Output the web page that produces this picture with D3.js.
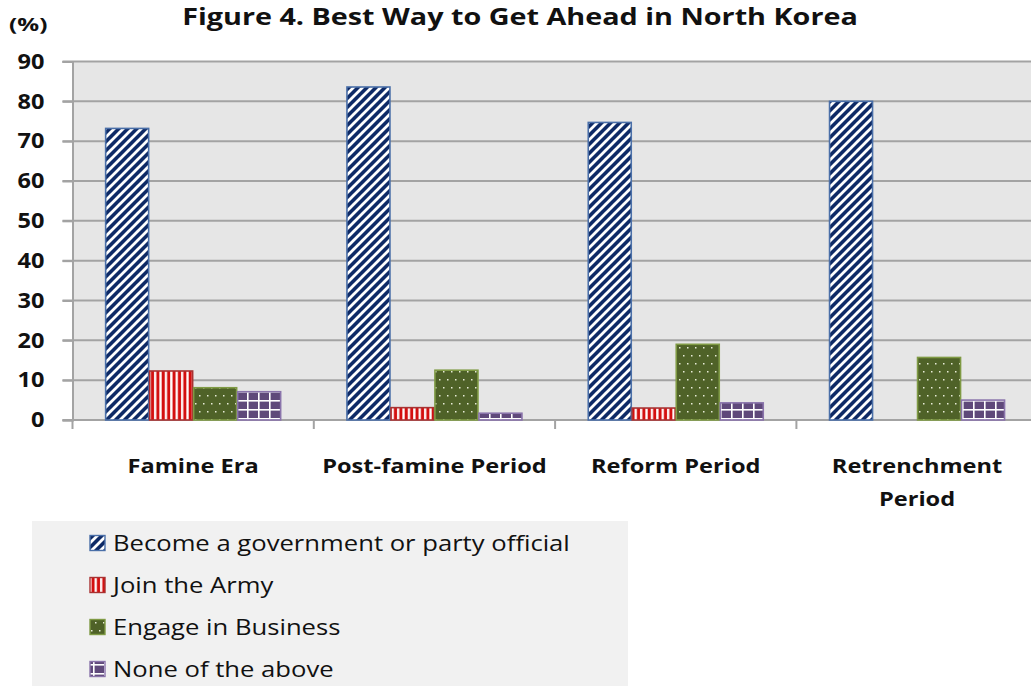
<!DOCTYPE html>
<html>
<head>
<meta charset="utf-8">
<script src="https://cdn.jsdelivr.net/npm/d3@7"></script>
<style>
  html, body { margin: 0; padding: 0; background: #ffffff; }
  svg { display: block; font-family: "Open Sans", Lato, sans-serif; }
</style>
</head>
<body>
<svg id="chart" width="1031" height="686"></svg>
<script>
// ---- data ----
const categories = ["Famine Era", "Post-famine Period", "Reform Period", "Retrenchment Period"];
const seriesNames = ["Become a government or party official", "Join the Army", "Engage in Business", "None of the above"];
const officialValues = [73.2, 83.6, 74.7, 80.0];
const armyValues = [12.3, 3.1, 3.0, 0];
const businessValues = [8.1, 12.5, 19.0, 15.7];
const noneValues = [7.1, 1.7, 4.3, 5.0];
const yTicks = [0, 10, 20, 30, 40, 50, 60, 70, 80, 90];
const titleText = "Figure 4. Best Way to Get Ahead in North Korea";
const unitText = "(%)";

const seriesValues = [officialValues, armyValues, businessValues, noneValues];

const svg = d3.select("#chart");
const W = 1031, H = 686;
const plot = { left: 72.5, top: 61.5, bottom: 420, bandW: 241.3 };

// horizontally widen a text element (the reference glyphs are wide)
function widen(textSel, k, anchor) {
  textSel.each(function () {
    const el = d3.select(this);
    const len = this.getComputedTextLength();
    const x = +el.attr("x");
    const newLen = len * k;
    let x0 = x;
    if (anchor === "middle") x0 = x - newLen / 2;
    else if (anchor === "end") x0 = x - newLen;
    el.attr("text-anchor", "start").attr("x", x0)
      .attr("textLength", newLen).attr("lengthAdjust", "spacingAndGlyphs");
  });
}

// ---- patterns ----
const defs = svg.append("defs");
const patIds = ["pat-official", "pat-army", "pat-business", "pat-none"];
const borders = ["#4a6fa8", "#a83232", "#7f9a44", "#8a74ab"];

{
  const s = 9;
  const p = defs.append("pattern").attr("id", patIds[0]).attr("patternUnits", "userSpaceOnUse")
    .attr("width", s).attr("height", s);
  p.append("rect").attr("width", s).attr("height", s).attr("fill", "#0e2a66");
  p.append("path").attr("d", `M-2,2 L2,-2 M0,${s} L${s},0 M${s - 2},${s + 2} L${s + 2},${s - 2}`)
    .attr("stroke", "#ffffff").attr("stroke-width", 2.8);
}
{
  const p = defs.append("pattern").attr("id", patIds[1]).attr("patternUnits", "userSpaceOnUse")
    .attr("width", 5.4).attr("height", 10);
  p.append("rect").attr("width", 5.4).attr("height", 10).attr("fill", "#d40f0f");
  p.append("rect").attr("x", 2.8).attr("width", 2.3).attr("height", 10).attr("fill", "#ffffff");
}
{
  const p = defs.append("pattern").attr("id", patIds[2]).attr("patternUnits", "userSpaceOnUse")
    .attr("width", 16).attr("height", 16);
  p.append("rect").attr("width", 16).attr("height", 16).attr("fill", "#4f6228");
  [[3, 3], [11, 3], [7, 11], [15, 11], [-1, 11]].forEach(([dx, dy]) => {
    p.append("rect").attr("x", dx).attr("y", dy).attr("width", 1.5).attr("height", 1.5).attr("fill", "#e8ecd8");
  });
}
{
  const p = defs.append("pattern").attr("id", patIds[3]).attr("patternUnits", "userSpaceOnUse")
    .attr("width", 11).attr("height", 9);
  p.append("rect").attr("width", 11).attr("height", 9).attr("fill", "#5f497a");
  p.append("rect").attr("x", 5).attr("width", 1.6).attr("height", 9).attr("fill", "#ffffff");
  p.append("rect").attr("y", 4).attr("width", 11).attr("height", 1.6).attr("fill", "#ffffff");
}

// ---- scales ----
const x0 = d3.scaleBand().domain(categories)
  .range([plot.left, plot.left + plot.bandW * categories.length]).padding(0);
const groupW = 176;
const x1 = d3.scaleBand().domain(seriesNames)
  .range([(x0.bandwidth() - groupW) / 2, (x0.bandwidth() + groupW) / 2]).padding(0);
const y = d3.scaleLinear().domain([0, 90]).range([plot.bottom, plot.top]);

// ---- plot background ----
svg.append("rect").attr("x", plot.left).attr("y", plot.top)
  .attr("width", W - plot.left).attr("height", plot.bottom - plot.top)
  .attr("fill", "#e6e6e6");

svg.append("g").selectAll("line").data(yTicks).join("line")
  .attr("x1", plot.left - 10).attr("x2", W)
  .attr("y1", d => y(d)).attr("y2", d => y(d))
  .attr("stroke", "#a3a3a3").attr("stroke-width", 2);

// y axis
const yAxis = svg.append("g").attr("transform", `translate(${plot.left},0)`)
  .call(d3.axisLeft(y).tickValues(yTicks).tickSize(10).tickPadding(18));
yAxis.select(".domain").attr("stroke", "#a3a3a3").attr("stroke-width", 2);
yAxis.selectAll(".tick line").attr("stroke", "#a3a3a3").attr("stroke-width", 2);
const yTickText = yAxis.selectAll(".tick text").attr("font-size", 21).attr("font-weight", "bold")
  .attr("fill", "#111").attr("font-family", "'Open Sans', sans-serif");
yTickText.each(function () { d3.select(this).attr("x", -28); });
widen(yTickText, 1.12, "end");

// x axis
svg.append("line").attr("x1", plot.left).attr("x2", W).attr("y1", y(0)).attr("y2", y(0))
  .attr("stroke", "#a3a3a3").attr("stroke-width", 2);
const boundaries = categories.map(c => x0(c));
svg.append("g").selectAll("line").data(boundaries).join("line")
  .attr("x1", d => d).attr("x2", d => d).attr("y1", y(0)).attr("y2", y(0) + 9)
  .attr("stroke", "#a3a3a3").attr("stroke-width", 2);

// ---- bars ----
const barData = [];
categories.forEach((c, ci) => {
  seriesNames.forEach((s, si) => {
    barData.push({ cat: c, series: s, si: si, value: seriesValues[si][ci] });
  });
});
svg.append("g").selectAll("rect").data(barData.filter(d => d.value > 0)).join("rect")
  .attr("x", d => x0(d.cat) + x1(d.series) + 0.5)
  .attr("y", d => y(d.value))
  .attr("width", x1.bandwidth() - 1)
  .attr("height", d => y(0) - y(d.value))
  .attr("fill", d => `url(#${patIds[d.si]})`)
  .attr("stroke", d => borders[d.si]).attr("stroke-width", 1.6);

// ---- x labels ----
const xl = svg.append("g");
categories.forEach(c => {
  const lines = c === "Retrenchment Period" ? ["Retrenchment", "Period"] : [c];
  lines.forEach((ln, i) => {
    const t = xl.append("text").attr("x", x0(c) + x0.bandwidth() / 2).attr("y", 473 + i * 33)
      .attr("font-size", 20).attr("font-weight", "bold").attr("fill", "#111").text(ln);
    widen(t, 1.18, "middle");
  });
});

// ---- title ----
const title = svg.append("text").attr("x", 520).attr("y", 25)
  .attr("font-size", 23).attr("font-weight", "bold").attr("fill", "#111").text(titleText);
widen(title, 1.25, "middle");
const unit = svg.append("text").attr("x", 9).attr("y", 31)
  .attr("font-size", 18).attr("font-weight", "bold").attr("fill", "#111").text(unitText);
widen(unit, 1.35, "start");

// ---- legend ----
const lg = svg.append("g");
lg.append("rect").attr("x", 32).attr("y", 521).attr("width", 596).attr("height", 170).attr("fill", "#f1f1f1");
const legendY = d3.scalePoint().domain(seriesNames).range([543, 669]);
const items = lg.selectAll("g.item").data(seriesNames).join("g").attr("class", "item")
  .attr("transform", d => `translate(0,${legendY(d)})`);
items.append("rect").attr("x", 90).attr("y", -7.5).attr("width", 15).attr("height", 15)
  .attr("fill", (d, i) => `url(#${patIds[i]})`).attr("stroke", (d, i) => borders[i]).attr("stroke-width", 1.4);
const legText = items.append("text").attr("x", 113).attr("y", 8).attr("font-size", 22).attr("fill", "#111").text(d => d);
widen(legText, 1.165, "start");
</script>
</body>
</html>
